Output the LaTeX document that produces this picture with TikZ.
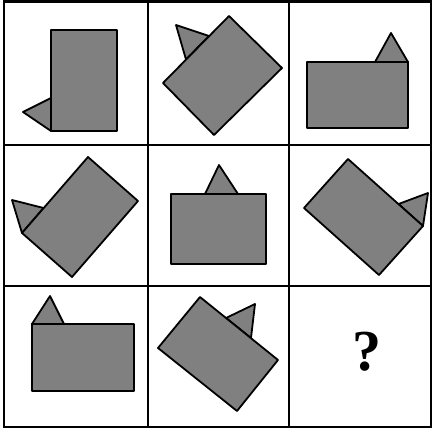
\documentclass[tikz,border=0pt]{standalone}
\usepackage{fontspec}
\setmainfont{Liberation Serif}
\definecolor{shapegray}{HTML}{808080}

\begin{document}
\begin{tikzpicture}[
  x=1pt,y=-1pt,
  gridline/.style={draw=black,line width=2.2pt},
  piece/.style={draw=black,fill=shapegray,line width=1.8pt,line join=round},
  qlabel/.style={font=\fontsize{58}{58}\selectfont\bfseries,inner sep=0pt}
]
\useasboundingbox (0,0) rectangle (433,434);
% grid
\draw[gridline] (4,1.5) rectangle (431,427);
\foreach \gx in {148,289} \draw[gridline] (\gx,1.5) -- (\gx,427);
\foreach \gy in {145,286} \draw[gridline] (4,\gy) -- (431,\gy);
% row 1
\draw[piece] (51,98) -- (23,112) -- (51,131) -- cycle;
\draw[piece] (51,30) rectangle (117,131);
\draw[piece] (209,36) -- (176,25) -- (186,59.5) -- cycle;
\draw[piece] (229,16) -- (282,68) -- (214,135) -- (163,83) -- cycle;
\draw[piece] (375,62) -- (391,33) -- (408,62) -- cycle;
\draw[piece] (307,62) rectangle (408,128);
% row 2
\draw[piece] (22,233) -- (12,200) -- (43.6,208) -- cycle;
\draw[piece] (88,157) -- (138,201) -- (72,277) -- (22,233) -- cycle;
\draw[piece] (205,194) -- (219,165) -- (238,194) -- cycle;
\draw[piece] (171,194) rectangle (266,264);
\draw[piece] (398.5,204) -- (428,193) -- (423,226) -- cycle;
\draw[piece] (348,159) -- (423,226) -- (379,275) -- (304,208) -- cycle;
% row 3
\draw[piece] (32,324) -- (50,296) -- (64,324) -- cycle;
\draw[piece] (32,324) rectangle (134,391);
\draw[piece] (226,318) -- (255,304) -- (251,338) -- cycle;
\draw[piece] (200,297) -- (278,360) -- (237,411) -- (158,348) -- cycle;
\node[qlabel] (qmark) at (367,352) {?};
\end{tikzpicture}
\end{document}
